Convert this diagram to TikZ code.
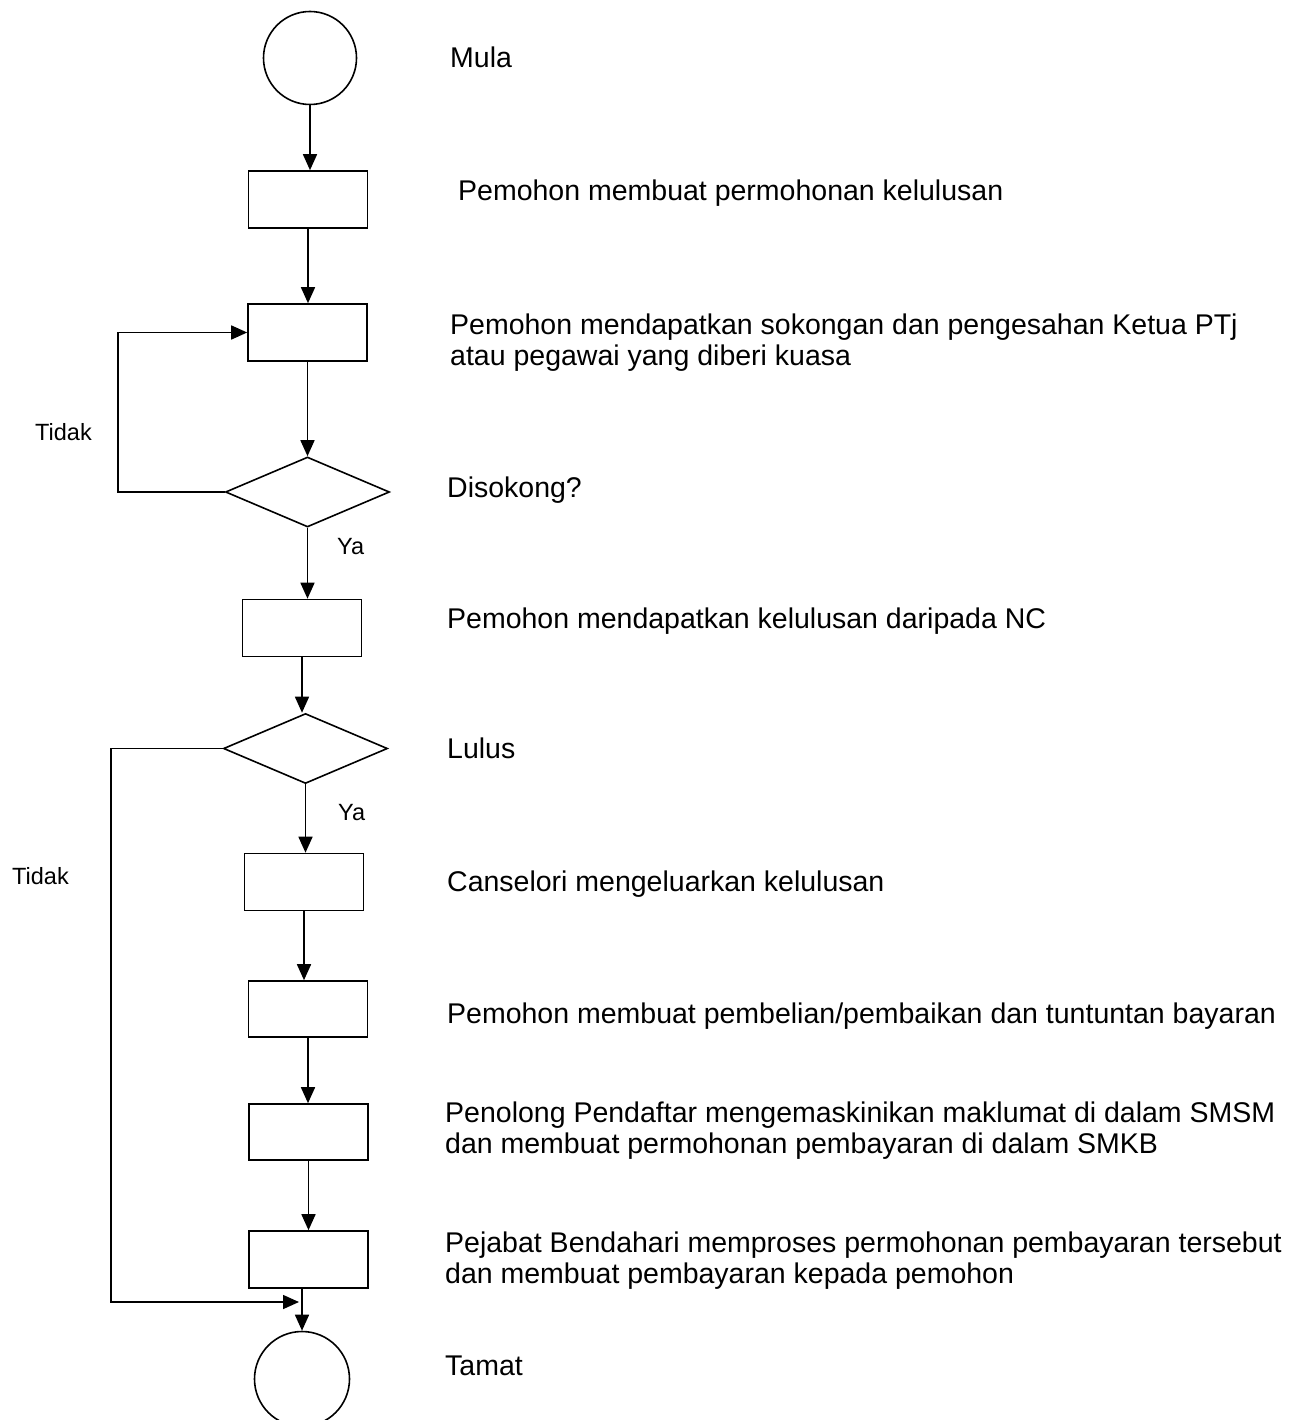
\documentclass[tikz,border=0pt]{standalone}
\usepackage{fontspec}
\setmainfont{Liberation Sans}
\usetikzlibrary{shapes.geometric,arrows.meta}
\tikzset{
  ln/.style={line width=1.6pt},
  arr/.style={ln,-{Triangle[length=16pt,width=14pt]}},
  proc/.style={draw,line width=1.6pt,rectangle,inner sep=0pt,minimum width=119pt,minimum height=57pt},
  term/.style={draw,line width=1.6pt,circle,inner sep=0pt,minimum size=93pt},
  dec/.style={draw,line width=1.6pt,diamond,inner sep=0pt,minimum width=164pt,minimum height=70pt},
  lbl/.style={anchor=base west,inner sep=0pt,font=\fontsize{28.5}{30.5}\selectfont,align=left},
  small/.style={anchor=base west,inner sep=0pt,font=\fontsize{23.5}{25}\selectfont},
}
\begin{document}
\begin{tikzpicture}[x=1pt,y=-1pt]
\useasboundingbox (0,0) rectangle (1296,1420);
\begin{scope}
\clip (0,0) rectangle (1296,1420);
\node[term] (start) at (310,58) {};
\node[proc] (b1) at (308,199.5) {};
\node[proc] (b2) at (307.5,332.5) {};
\node[dec]  (d1) at (307.5,492) {};
\node[proc] (b3) at (302,628) {};
\node[dec]  (d2) at (305.5,748.5) {};
\node[proc] (b4) at (304,882) {};
\node[proc,minimum height=56pt] (b5) at (308,1009) {};
\node[proc,minimum height=56pt] (b6) at (308.5,1132) {};
\node[proc] (b7) at (308.5,1259.5) {};
\node[term,minimum size=95pt] (end) at (302,1379) {};

\draw[arr] (start.south) -- (start.south |- b1.north);
\draw[arr] (b1.south) -- (b1.south |- b2.north);
\draw[arr] (b2.south) -- (b2.south |- d1.north);
\draw[arr] (d1.south) -- (d1.south |- b3.north);
\draw[arr] (b3.south) -- (b3.south |- d2.north);
\draw[arr] (d2.south) -- (d2.south |- b4.north);
\draw[arr] (b4.south) -- (b4.south |- b5.north);
\draw[arr] (b5.south) -- (b5.south |- b6.north);
\draw[arr] (b6.south) -- (b6.south |- b7.north);
\draw[arr] (end.north |- b7.south) -- (end.north);

\coordinate (L1) at (118,332.5);
\draw[arr] (d1.west) -| (L1) -- (b2.west);
\coordinate (L2) at (111,1302);
\coordinate (J) at (299,1302);
\draw[arr] (d2.west) -| (L2) -- (J);

\node[lbl] (t0) at (450,68) {Mula};
\node[lbl] (t1) at (458,201) {Pemohon membuat permohonan kelulusan};
\node[lbl] (t2) at (450,365) {Pemohon mendapatkan sokongan dan pengesahan Ketua PTj\\atau pegawai yang diberi kuasa};
\node[lbl] (t3) at (447,497) {Disokong?};
\node[lbl] (t4) at (447,628) {Pemohon mendapatkan kelulusan daripada NC};
\node[lbl] (t5) at (447,758) {Lulus};
\node[lbl] (t6) at (447,891) {Canselori mengeluarkan kelulusan};
\node[lbl] (t7) at (447,1023) {Pemohon membuat pembelian/pembaikan dan tuntuntan bayaran};
\node[lbl] (t8) at (445,1153) {Penolong Pendaftar mengemaskinikan maklumat di dalam SMSM\\dan membuat permohonan pembayaran di dalam SMKB};
\node[lbl] (t9) at (445,1283) {Pejabat Bendahari memproses permohonan pembayaran tersebut\\dan membuat pembayaran kepada pemohon};
\node[lbl] (t10) at (445,1375) {Tamat};

\node[small] (ya1) at (337,554) {Ya};
\node[small] (ya2) at (338,820) {Ya};
\node[small] (n1) at (35,440) {Tidak};
\node[small] (n2) at (12,884) {Tidak};
\end{scope}
\end{tikzpicture}
\end{document}
